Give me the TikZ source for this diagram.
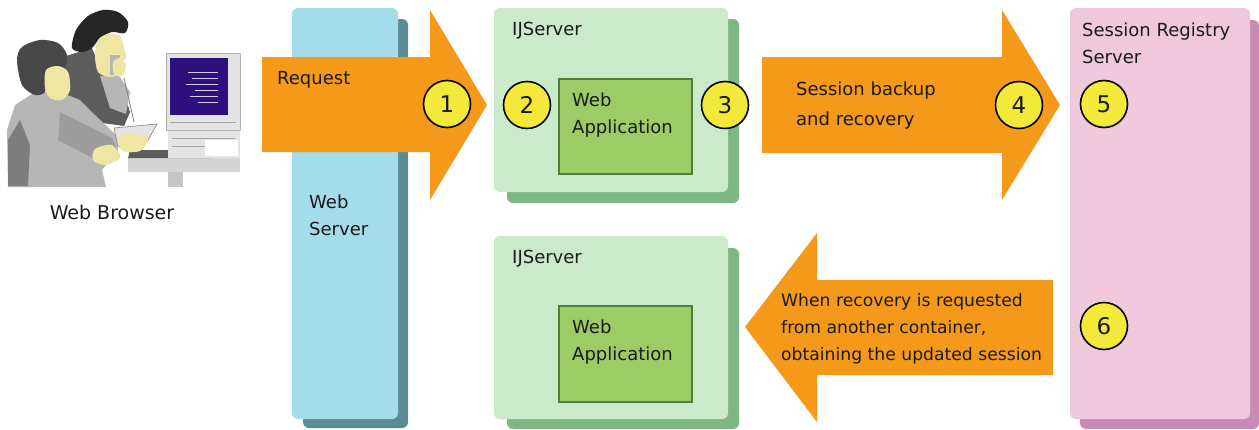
\documentclass[tikz,border=0pt]{standalone}
\usepackage{fontspec}
\setmainfont{DejaVu Sans}
\definecolor{flow}{HTML}{F5991A}
\definecolor{wsfront}{HTML}{A4DCEA}
\definecolor{wsshadow}{HTML}{5B8C93}
\definecolor{ijfront}{HTML}{CBEACA}
\definecolor{ijshadow}{HTML}{7DB784}
\definecolor{appfill}{HTML}{9DCB66}
\definecolor{appborder}{HTML}{4F7D3F}
\definecolor{regfront}{HTML}{F0C8DC}
\definecolor{regshadow}{HTML}{C88BB3}
\definecolor{badgefill}{HTML}{F2E93B}
\definecolor{ink}{HTML}{1A1A1A}
\definecolor{skin}{HTML}{EEE6A2}
\definecolor{hairdark}{HTML}{262626}
\definecolor{suitdark}{HTML}{5C5C5C}
\definecolor{suitlight}{HTML}{B6B6B6}
\definecolor{screen}{HTML}{2E0F7E}
\definecolor{case}{HTML}{E4E4E4}
\begin{document}
\begin{tikzpicture}[x=1pt,y=-1pt,
  every node/.style={inner sep=0pt, text=ink},
  lbl/.style={font=\fontsize{18}{27}\selectfont, align=left, anchor=base west},
  badge/.style={circle, draw=black, line width=1.6pt, fill=badgefill,
    minimum size=47pt, font=\fontsize{23}{23}\selectfont},
  panel/.style={rounded corners=6pt},
  blockarrow/.style={fill=flow}]
\useasboundingbox (0,0) rectangle (1259,429);

% ---------- web browser: two users at a workstation ----------
% desk, leg, keyboard
\fill[case!85!gray] (128,158) rectangle (240,172);
\fill[case!70!gray] (168,172) rectangle (183,187);
\fill[suitdark] (130,150) -- (205,150) -- (210,158) -- (128,158) -- cycle;
% system unit
\fill[case] (168,130) rectangle (240,158);
\draw[gray!70, line width=0.8pt] (172,138) -- (235,138) (172,146) -- (235,146);
\fill[white] (205,140) rectangle (238,156);
% monitor
\fill[case] (166,53) rectangle (240,130);
\draw[gray!60, line width=0.8pt] (166,53) rectangle (240,130);
\fill[screen] (170,58) rectangle (228,115);
\foreach \yy/\xa in {72/188,78/192,84/186,90/195,96/190,102/198}
  \draw[white!80!screen, line width=0.9pt] (\xa,\yy) -- (218,\yy);
\draw[gray!70, line width=0.8pt] (170,122) -- (236,122);
% woman standing behind
\fill[suitdark] (66,56) -- (92,48) -- (102,72) -- (120,80) -- (130,112)
  -- (124,126) -- (95,122) -- (70,112) -- (60,80) -- cycle;
\fill[suitlight] (100,76) -- (118,74) -- (130,92) -- (126,114) -- (110,108) -- cycle;
\fill[hairdark] plot[smooth cycle] coordinates {(72,48) (76,30) (88,16) (103,10)
  (118,12) (128,22) (125,33) (112,32) (100,38) (92,48) (82,52)};
\fill[skin] plot[smooth cycle] coordinates {(98,40) (108,34) (120,36) (124,48)
  (126,58) (121,62) (122,72) (110,77) (98,72) (95,55)};
\fill[suitlight] (110,55) rectangle (120,75);
\fill[skin] plot[smooth cycle] coordinates {(113,62) (121,58) (126,66) (122,76) (114,74)};
\draw[gray, line width=0.8pt] (124,78) -- (134,122);
% man sitting in front
\fill[suitlight] (8,187) -- (7,130) -- (15,105) -- (35,92) -- (60,92) -- (80,100)
  -- (95,115) -- (116,135) -- (118,150) -- (102,170) -- (106,187) -- cycle;
\fill[suitdark!80!white] (8,186) -- (8,140) -- (20,120) -- (30,145) -- (28,186) -- cycle;
\fill[suitdark!60!white] (60,112) -- (112,138) -- (120,156) -- (100,162) -- (58,140) -- cycle;
\fill[hairdark!85!white] plot[smooth cycle] coordinates {(17,60) (22,47) (40,40)
  (58,43) (67,55) (64,70) (55,68) (47,78) (45,92) (35,95) (22,85)};
\fill[skin] plot[smooth cycle] coordinates {(46,70) (58,66) (68,72) (70,90)
  (62,100) (50,98) (45,88)};
\fill[case] (114,128) -- (157,124) -- (147,142) -- (118,147) -- cycle;
\draw[gray, line width=0.6pt] (114,128) -- (157,124) -- (147,142) -- (118,147) -- cycle;
\fill[skin] plot[smooth cycle] coordinates {(118,138) (132,133) (148,139) (140,151) (123,151)};
\fill[skin] plot[smooth cycle] coordinates {(95,149) (112,145) (120,158) (105,165) (93,160)};
\node[font=\fontsize{19}{21}\selectfont, anchor=base] (browser) at (112,219) {Web Browser};

% ---------- web server ----------
\fill[wsshadow, panel] (303,19) rectangle (408,428);
\fill[wsfront, panel] (292,8) rectangle (398,419);
\node[lbl] (websrv) at (309,235) {Web\\Server};

% ---------- IJServer (upper) ----------
\fill[ijshadow, panel] (507,19) rectangle (739,203);
\fill[ijfront, panel] (494,8) rectangle (728,192);
\node[lbl] (ijA) at (512,35) {IJServer};
\draw[appborder, line width=1.5pt, fill=appfill] (559,79) rectangle (692,174);
\node[lbl] (appA) at (572,133) {Web\\Application};

% ---------- IJServer (lower) ----------
\fill[ijshadow, panel] (507,248) rectangle (739,429);
\fill[ijfront, panel] (494,236) rectangle (728,419);
\node[lbl] (ijB) at (512,263) {IJServer};
\draw[appborder, line width=1.5pt, fill=appfill] (559,306) rectangle (692,402);
\node[lbl] (appB) at (572,360) {Web\\Application};

% ---------- session registry server ----------
\fill[regshadow, panel] (1080,20) rectangle (1259,429);
\fill[regfront, panel] (1070,8) rectangle (1250,419);
\node[lbl] (reg) at (1082,63) {Session Registry\\Server};

% ---------- flow arrows ----------
\fill[blockarrow] (262,57) -- (430,57) -- (430,10) -- (487,105) -- (430,200)
  -- (430,152) -- (262,152) -- cycle;
\node[lbl] (req) at (277,84) {Request};

\fill[blockarrow] (762,57) -- (1002,57) -- (1002,10) -- (1060,105) -- (1002,200)
  -- (1002,153) -- (762,153) -- cycle;
\node[lbl, font=\fontsize{18}{30}\selectfont] (backup) at (796,125) {Session backup\\and recovery};

\fill[blockarrow] (1053,280) -- (817,280) -- (817,233) -- (745,327) -- (817,422)
  -- (817,375) -- (1053,375) -- cycle;
\node[lbl, font=\fontsize{17.2}{27}\selectfont] (recover) at (781,360)
  {When recovery is requested\\from another container,\\obtaining the updated session};

% ---------- step badges ----------
\node[badge] (s1) at (447,104) {1};
\node[badge] (s2) at (527,105) {2};
\node[badge] (s3) at (725,105) {3};
\node[badge] (s4) at (1019,105) {4};
\node[badge] (s5) at (1104,104) {5};
\node[badge] (s6) at (1104,326) {6};
\end{tikzpicture}
\end{document}
